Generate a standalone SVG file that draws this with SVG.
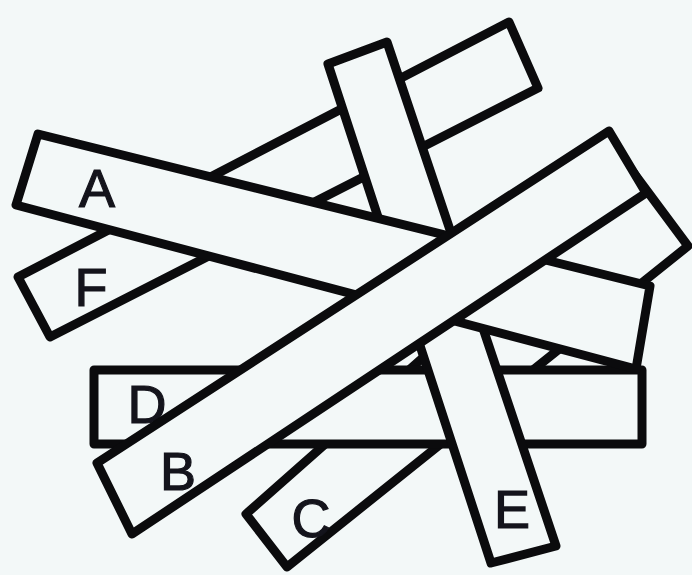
<svg xmlns="http://www.w3.org/2000/svg" width="692" height="575" viewBox="0 0 692 575">
<style>
.stick{fill:#f3f8f8;stroke:#0b0b0d;stroke-width:9;stroke-linejoin:round}
.lbl{font-family:"Liberation Sans","DejaVu Sans",Arial,sans-serif;font-size:54px;fill:#14141c;stroke:#14141c;stroke-width:1.2;text-anchor:middle}
</style>
<rect x="0" y="0" width="692" height="575" fill="#f3f8f8"/>
<g id="stick-C">
<polygon class="stick" points="246,514 287,567 688,246 633,172"/>
<text class="lbl" x="311" y="537">C</text>
</g>
<g id="stick-F">
<polygon class="stick" points="18,277 509,22 538,88 50,337"/>
<text class="lbl" x="91" y="306">F</text>
</g>
<g id="stick-D">
<rect class="stick" x="94" y="370" width="548" height="74"/>
<text class="lbl" x="147" y="423">D</text>
</g>
<g id="stick-E">
<polygon class="stick" points="328,64 387,42 556,546 491,563"/>
<text class="lbl" x="512" y="528">E</text>
</g>
<g id="stick-A">
<polygon class="stick" points="38,134 650,286 636,369 16,205"/>
<text class="lbl" x="97" y="207">A</text>
</g>
<g id="stick-B">
<polygon class="stick" points="97,463 609,131 646,193 132,534"/>
<text class="lbl" x="178" y="490">B</text>
</g>
<g id="connectors"></g>
</svg>
